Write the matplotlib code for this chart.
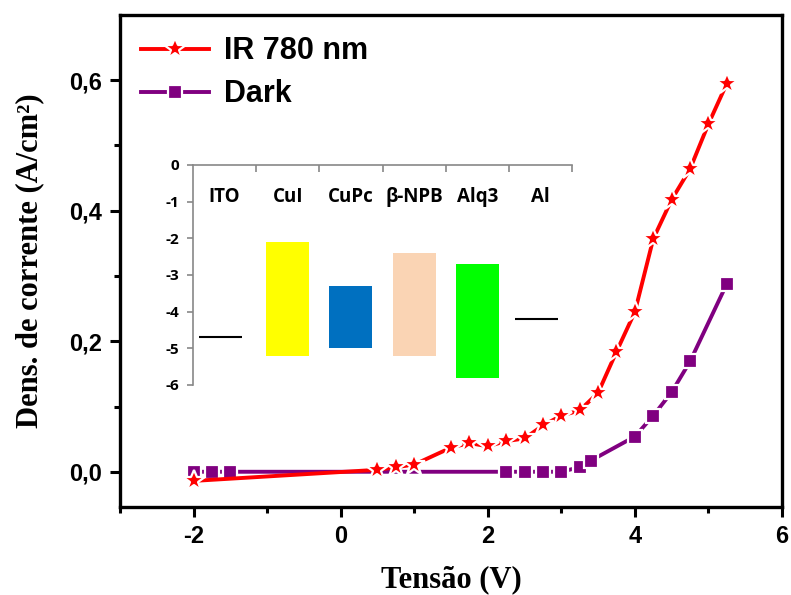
import numpy as np
import matplotlib
matplotlib.use("Agg")
import matplotlib.pyplot as plt
from matplotlib.ticker import FixedLocator

# J-V data
v_ir = [-2.0, 0.5, 0.75, 1.0, 1.5, 1.75, 2.0, 2.25, 2.5, 2.75, 3.0, 3.25,
        3.5, 3.75, 4.0, 4.25, 4.5, 4.75, 5.0, 5.25]
j_ir = [-0.014, 0.003, 0.007, 0.011, 0.037, 0.044, 0.039, 0.047, 0.051, 0.071,
        0.086, 0.094, 0.121, 0.184, 0.245, 0.357, 0.417, 0.464, 0.533, 0.595]

v_dark = [-2.0, -1.75, -1.5, 2.25, 2.5, 2.75, 3.0, 3.25, 3.4, 4.0, 4.25,
          4.5, 4.75, 5.25]
j_dark = [0.0, 0.0, 0.0, 0.0, 0.0, 0.0, 0.0, 0.007, 0.017, 0.054, 0.086,
          0.122, 0.169, 0.288]

# energy level diagram (eV)
layers = ["ITO", "CuI", "CuPc", "β-NPB", "Alq3", "Al"]
lumo = [None, -2.1, -3.3, -2.4, -2.7, None]
homo = [None, -5.2, -5.0, -5.2, -5.8, None]
work_fn = {"ITO": -4.7, "Al": -4.2}
layer_colors = [None, "#FFFF00", "#0070C0", "#FAD4B4", "#00FF00", None]

sans = ["Liberation Sans", "DejaVu Sans"]
serif = ["Liberation Serif", "DejaVu Serif"]
inset_font = ["Open Sans", "DejaVu Sans"]

fig = plt.figure(figsize=(7.91, 5.95), dpi=100)
ax = fig.add_axes([0.1517, 0.1479, 0.8369, 0.8269])

ax.plot(v_ir, j_ir, color="red", lw=2.8, marker="*", ms=16.5,
        mfc="red", mec="white", mew=1.6, label="IR 780 nm", zorder=4)
ax.plot(v_dark, j_dark, color="#800080", lw=2.8, marker="s", ms=10,
        mfc="#800080", mec="white", mew=1.6, label="Dark", zorder=3)

ax.set_xlim(-3, 6)
ax.set_ylim(-0.054, 0.70)
ax.xaxis.set_major_locator(FixedLocator([-2, 0, 2, 4, 6]))
ax.xaxis.set_minor_locator(FixedLocator([-3, -1, 1, 3, 5]))
ax.yaxis.set_major_locator(FixedLocator([0.0, 0.2, 0.4, 0.6]))
ax.yaxis.set_minor_locator(FixedLocator([0.1, 0.3, 0.5]))
ax.set_xticklabels(["-2", "0", "2", "4", "6"], fontfamily=sans,
                   fontweight="bold", fontsize=17)
ax.set_yticklabels(["0,0", "0,2", "0,4", "0,6"], fontfamily=sans,
                   fontweight="bold", fontsize=17)
ax.tick_params(which="major", direction="out", length=7, width=2.2, pad=6)
ax.tick_params(which="minor", direction="out", length=4, width=2.2)
for s in ax.spines.values():
    s.set_linewidth(2.4)

ax.set_xlabel("Tensão (V)", fontfamily=serif, fontweight="bold",
              fontsize=22, labelpad=12)
ax.set_ylabel("Dens. de corrente (A/cm²)", fontfamily=serif,
              fontweight="bold", fontsize=22, labelpad=18)

leg = ax.legend(loc="upper left", frameon=False, handlelength=2.2,
                handletextpad=0.5, borderaxespad=0.3, labelspacing=0.42,
                bbox_to_anchor=(0.0, 1.0),
                prop={"family": sans, "weight": "bold", "size": 22})

# inset: energy level diagram
ins = fig.add_axes([193 / 791, 1 - 385 / 595, (572 - 193) / 791, 220 / 595])
ins.patch.set_alpha(0)
x = np.arange(len(layers))
for i, name in enumerate(layers):
    if lumo[i] is not None:
        ins.bar(x[i], lumo[i] - homo[i], bottom=homo[i], width=0.68,
                color=layer_colors[i])
    else:
        ins.hlines(work_fn[name], x[i] - 0.4, x[i] + 0.28, color="black", lw=1.5)
    ins.text(x[i], -0.88, name, ha="center", va="center", fontsize=13.5,
             fontweight="bold", family=inset_font)
ins.set_xlim(-0.5, len(layers) - 0.5)
ins.set_ylim(-6, 0)
ins.spines["bottom"].set_visible(False)
ins.spines["right"].set_visible(False)
for s in ("top", "left"):
    ins.spines[s].set_color("#888888")
    ins.spines[s].set_linewidth(1.2)
ins.xaxis.tick_top()
ins.xaxis.set_major_locator(FixedLocator(np.arange(len(layers)) + 0.5))
ins.set_xticklabels([])
ins.tick_params(axis="x", direction="in", length=5, color="#888888", width=1.2)
ins.set_yticks([0, -1, -2, -3, -4, -5, -6])
ins.set_yticklabels(["0", "-1", "-2", "-3", "-4", "-5", "-6"], fontsize=11,
                    fontweight="bold", family=inset_font)
ins.tick_params(axis="y", direction="out", length=4, color="#888888",
                width=1.2, pad=6)

fig.savefig("out.png", dpi=100)
